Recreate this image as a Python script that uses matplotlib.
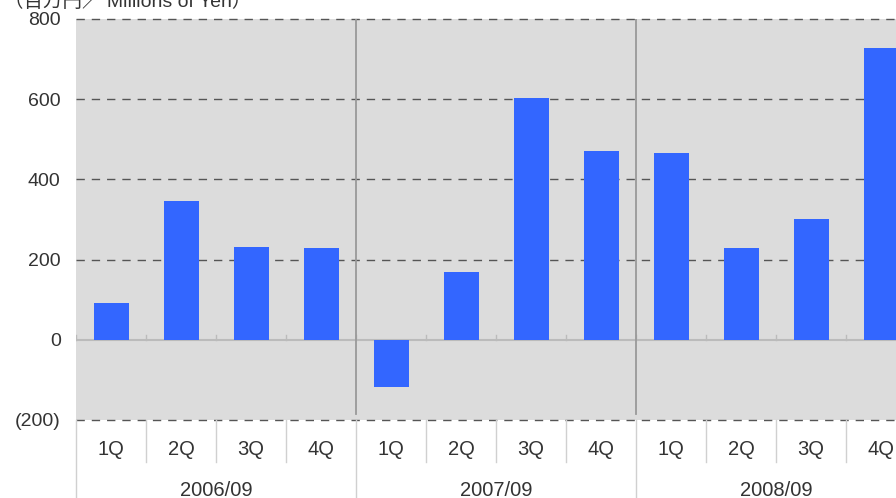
import matplotlib.pyplot as plt
from matplotlib.transforms import blended_transform_factory

plt.rcParams['font.family'] = ['Liberation Sans', 'Noto Sans CJK JP', 'DejaVu Sans']

years = ["2006/09", "2007/09", "2008/09"]
quarters = ["1Q", "2Q", "3Q", "4Q"]
values = [92, 345, 232, 230,
          -118, 168, 602, 470,
          465, 230, 302, 728]
y_ticks = [-200, 0, 200, 400, 600, 800]
y_labels = ["(200)", "0", "200", "400", "600", "800"]
unit_label = "（百万円／ Millions of Yen）"

W, H = 896, 498
fig = plt.figure(figsize=(W / 100, H / 100), dpi=100)
# plot area runs past the right edge of the image, like the original
ax = fig.add_axes([76 / W, 78 / H, 840 / W, 401 / H])
ax.set_facecolor("#dcdcdc")

n = len(values)
xs = [i + 0.5 for i in range(n)]
ax.bar(xs, values, width=0.5, color="#3366ff", zorder=3)

ax.set_xlim(0, n)
ax.set_ylim(-200, 800)
ax.set_yticks(y_ticks)
ax.set_yticklabels(y_labels, fontsize=14, color="#333333")
ax.tick_params(axis="y", length=0, pad=11)
ax.set_xticks([])
for s in ax.spines.values():
    s.set_visible(False)

# dashed grid (not at zero)
for t in y_ticks:
    if t != 0:
        ax.axhline(t, color="#555555", lw=1, dashes=(6, 5), zorder=1, clip_on=False)
ax.axhline(0, color="#bbbbbb", lw=1.5, zorder=2)

# small ticks on zero line
for b in range(n + 1):
    ax.plot([b, b], [0, 12], color="#bbbbbb", lw=1, zorder=2)

# year separators inside plot
for b in range(4, n, 4):
    ax.plot([b, b], [-185, 800], color="#999999", lw=1.3, zorder=2)

# category axis below
tr = blended_transform_factory(ax.transData, ax.transAxes)
px = 1 / 401
for b in range(n + 1):
    if b % 4 == 0:
        ax.plot([b, b], [0, -78 * px], color="#d0d0d0", lw=1, transform=tr, clip_on=False)
    else:
        ax.plot([b, b], [0, -42 * px], color="#d0d0d0", lw=1, transform=tr, clip_on=False)

for i, x in enumerate(xs):
    ax.text(x, -29 * px, quarters[i % 4], transform=tr, ha="center", va="center",
            fontsize=14.5, color="#333333")
for j, yr in enumerate(years):
    ax.text(4 * j + 2, -70 * px, yr, transform=tr, ha="center", va="center",
            fontsize=14.5, color="#333333")

fig.text(4 / W, 1 - 2 / H, unit_label, ha="left", va="center", fontsize=14, color="#333333")

fig.savefig("out.png", dpi=100)
